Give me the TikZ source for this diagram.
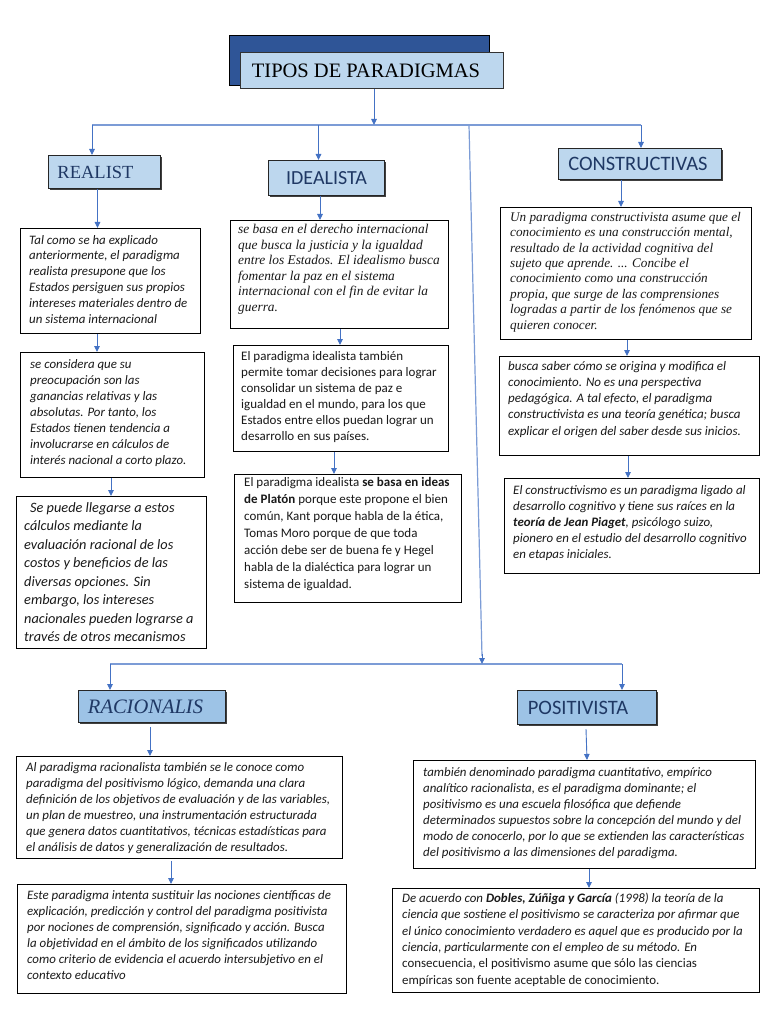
\documentclass[tikz,border=0pt]{standalone}
\usepackage{fontspec}
\usetikzlibrary{arrows.meta,shadows}
\setmainfont{Carlito}
\newfontfamily\serifx{Liberation Serif}
\newfontfamily\calx{Carlito}
\definecolor{lb}{HTML}{BDD7EE}
\definecolor{mb}{HTML}{9DC3E6}
\definecolor{db}{HTML}{2F5597}
\definecolor{ab}{HTML}{4472C4}
\definecolor{nv}{HTML}{1F3864}
\newcommand{\fs}[2]{\fontsize{#1}{#2}\selectfont}
\tikzset{
  hdr/.style={draw=black!85, line width=1pt, fill=lb, anchor=north west, inner sep=0pt,
    drop shadow={shadow xshift=1.2pt, shadow yshift=-1.2pt, fill=black!75, opacity=1}},
  hdr2/.style={hdr, fill=mb},
  boxx/.style={draw=black, line width=0.9pt, fill=white, anchor=north west, inner sep=0pt},
  tx/.style={anchor=north west, inner sep=0pt, align=left, text=black!90},
  arr/.style={draw=ab, line width=0.9pt, -{Triangle[width=5.5pt,length=6pt]}},
  ln/.style={draw=ab!70, line width=1.2pt}
}
\begin{document}
\begin{tikzpicture}[x=1pt,y=-1pt]
\useasboundingbox (0,0) rectangle (768,1024);
\fill[white] (0,0) rectangle (768,1024);
% title
\node[draw=black, line width=1pt, fill=db, anchor=north west, minimum width=260pt, minimum height=50pt] (tback) at (229,35) {};
\node[draw=black!80, line width=1pt, fill=lb, anchor=north west, minimum width=263pt, minimum height=36pt, inner sep=0pt,
  font=\serifx\fs{20.5}{22}] (title) at (240,52) {TIPOS DE PARADIGMAS\kern12pt};
% headers
\node[hdr, minimum width=112pt, minimum height=33pt, font=\serifx\fs{18.5}{20}, text=nv] (realist) at (48,155) {REALIST\kern18pt};
\node[hdr, minimum width=116pt, minimum height=35pt, font=\calx\fs{20}{22}, text=nv] (ideal) at (268,160) {IDEALISTA};
\node[hdr, minimum width=163pt, minimum height=31pt, font=\calx\fs{20.5}{22}, text=nv] (constr) at (558,148) {CONSTRUCTIVAS\kern4pt};
\node[hdr2, minimum width=147pt, minimum height=32pt, font=\serifx\itshape\fs{20.5}{22}, text=nv] (racio) at (78,690) {RACIONALIS\kern13pt};
\node[hdr2, minimum width=139pt, minimum height=34pt, font=\calx\fs{20.5}{22}, text=nv] (posit) at (517,690) {POSITIVISTA\kern18pt};
% boxes
\node[boxx, minimum width=180pt, minimum height=105pt] (r1) at (20,228) {};
\node[boxx, minimum width=184pt, minimum height=125pt] (r2) at (20,352) {};
\node[boxx, minimum width=190pt, minimum height=152pt] (r3) at (16,496) {};
\node[boxx, minimum width=218pt, minimum height=108pt] (i1) at (230,220) {};
\node[boxx, minimum width=215pt, minimum height=106pt] (i2) at (233,345) {};
\node[boxx, minimum width=227pt, minimum height=128pt] (i3) at (234,474) {};
\node[boxx, minimum width=251pt, minimum height=132pt] (c1) at (500,207) {};
\node[boxx, minimum width=260pt, minimum height=99pt] (c2) at (499,356) {};
\node[boxx, minimum width=255pt, minimum height=95pt] (c3) at (504,478) {};
\node[boxx, minimum width=326pt, minimum height=102pt] (a1) at (16,756) {};
\node[boxx, minimum width=329pt, minimum height=109pt] (a2) at (17,884) {};
\node[boxx, minimum width=342pt, minimum height=108pt] (p1) at (413,760) {};
\node[boxx, minimum width=367pt, minimum height=104pt] (p2) at (392,888) {};
% texts
\node[tx, font=\itshape\fs{12.9}{15.8}] (t-r1) at (29,235) {Tal como se ha explicado\\anteriormente, el paradigma\\realista presupone que los\\Estados persiguen sus propios\\intereses materiales dentro de\\un sistema internacional};
\node[tx, font=\itshape\fs{12.9}{16}] (t-r2) at (30,359) {se considera que su\\preocupación son las\\ganancias relativas y las\\absolutas. Por tanto, los\\Estados tienen tendencia a\\involucrarse en cálculos de\\interés nacional a corto plazo.};
\node[tx, font=\itshape\fs{14.3}{18.5}] (t-r3) at (24,502) {\hspace*{6pt}Se puede llegarse a estos\\cálculos mediante la\\evaluación racional de los\\costos y beneficios de las\\diversas opciones. Sin\\embargo, los intereses\\nacionales pueden lograrse a\\través de otros mecanismos};
\node[tx, font=\serifx\itshape\fs{13.4}{15.6}] (t-i1) at (238,224) {se basa en el derecho internacional\\que busca la justicia y la igualdad\\entre los Estados. El idealismo busca\\fomentar la paz en el sistema\\internacional con el fin de evitar la\\guerra.};
\node[tx, font=\fs{13}{16}] (t-i2) at (241,351) {El paradigma idealista también\\permite tomar decisiones para lograr\\consolidar un sistema de paz e\\igualdad en el mundo, para los que\\Estados entre ellos puedan lograr un\\desarrollo en sus países.};
\node[tx, font=\fs{13}{17}] (t-i3) at (244,477) {El paradigma idealista \textbf{se basa en ideas}\\\textbf{de Platón} porque este propone el bien\\común, Kant porque habla de la ética,\\Tomas Moro porque de que toda\\acción debe ser de buena fe y Hegel\\habla de la dialéctica para lograr un\\sistema de igualdad.};
\node[tx, font=\serifx\itshape\fs{13.2}{15.4}] (t-c1) at (510,212) {Un paradigma constructivista asume que el\\conocimiento es una construcción mental,\\resultado de la actividad cognitiva del\\sujeto que aprende. ... Concibe el\\conocimiento como una construcción\\propia, que surge de las comprensiones\\logradas a partir de los fenómenos que se\\quieren conocer.};
\node[tx, font=\itshape\fs{13}{16.2}] (t-c2) at (508,361) {busca saber cómo se origina y modifica el\\conocimiento. No es una perspectiva\\pedagógica. A tal efecto, el paradigma\\constructivista es una teoría genética; busca\\explicar el origen del saber desde sus inicios.};
\node[tx, font=\itshape\fs{12.9}{16.2}] (t-c3) at (513,485) {El constructivismo es un paradigma ligado al\\desarrollo cognitivo y tiene sus raíces en la\\\textbf{teoría de Jean Piaget}, psicólogo suizo,\\pionero en el estudio del desarrollo cognitivo\\en etapas iniciales.};
\node[tx, font=\itshape\fs{12.9}{16}] (t-a1) at (26,762) {Al paradigma racionalista también se le conoce como\\paradigma del positivismo lógico, demanda una clara\\definición de los objetivos de evaluación y de las variables,\\un plan de muestreo, una instrumentación estructurada\\que genera datos cuantitativos, técnicas estadísticas para\\el análisis de datos y generalización de resultados.};
\node[tx, font=\itshape\fs{12.9}{16}] (t-a2) at (27,890) {Este paradigma intenta sustituir las nociones científicas de\\explicación, predicción y control del paradigma positivista\\por nociones de comprensión, significado y acción. Busca\\la objetividad en el ámbito de los significados utilizando\\como criterio de evidencia el acuerdo intersubjetivo en el\\contexto educativo};
\node[tx, font=\itshape\fs{12.9}{16}] (t-p1) at (423,767) {también denominado paradigma cuantitativo, empírico\\analítico racionalista, es el paradigma dominante; el\\positivismo es una escuela filosófica que defiende\\determinados supuestos sobre la concepción del mundo y del\\modo de conocerlo, por lo que se extienden las características\\del positivismo a las dimensiones del paradigma.};
\node[tx, font=\fs{12.9}{16.3}] (t-p2) at (402,893) {\itshape De acuerdo con \textbf{Dobles, Zúñiga y García} (1998) la teoría de la\\\itshape ciencia que sostiene el positivismo se caracteriza por afirmar que\\\itshape el único conocimiento verdadero es aquel que es producido por la\\\itshape ciencia, particularmente con el empleo de su método. En\\consecuencia, el positivismo asume que sólo las ciencias\\empíricas son fuente aceptable de conocimiento.};
% connectors
\coordinate (hub) at (374,125);
\coordinate (hl) at (92,125);
\coordinate (hr) at (641,125);
\coordinate (hv) at (469,125);
\coordinate (lo) at (482,664);
\coordinate (ll) at (110,664);
\coordinate (lr) at (622,664);
\draw[ln] (hl) -- (hr);
\draw[ln] (ll) -- (lr);
\draw[ln] (hv) -- ([yshift=8pt]lo);
\draw[arr] ([yshift=10pt]lo) -- (lo);
\draw[arr] (title.south -| hub) -- (hub);
\draw[arr] (hl) -- (realist.north -| hl);
\draw[arr] (hub -| ideal.north) ++(-8,0) coordinate (ix) -- (ideal.north -| ix);
\draw[arr] (hr) -- (constr.north -| hr);
\draw[arr] (ll) -- (racio.north -| ll);
\draw[arr] (lr) -- (posit.north -| lr);
\draw[arr] ([xshift=-7pt]realist.south) -- ([xshift=-7pt]realist.south |- r1.north);
\draw[arr] (r1.south -| 97,0) -- (r2.north -| 97,0);
\draw[arr] (r2.south -| 111,0) -- (r3.north -| 111,0);
\draw[arr] (ideal.south -| 320,0) -- (i1.north -| 320,0);
\draw[arr] (i1.south -| 340,0) -- (i2.north -| 340,0);
\draw[arr] (i2.south -| 334,0) -- (i3.north -| 334,0);
\draw[arr] (constr.south -| 621,0) -- (c1.north -| 621,0);
\draw[arr] (c1.south -| 627,0) -- (c2.north -| 627,0);
\draw[arr] (c2.south -| 628,0) -- (c3.north -| 628,0);
\draw[arr] ([yshift=-4pt]racio.south -| 150,0) -- (a1.north -| 150,0);
\draw[arr] ([yshift=-2pt]a1.south -| 171,0) -- (a2.north -| 171,0);
\draw[arr] ([yshift=-4pt]posit.south -| 586,0) -- (p1.north -| 587,0);
\draw[arr] (p1.south -| 589,0) -- (p2.north -| 589,0);
\end{tikzpicture}
\end{document}
